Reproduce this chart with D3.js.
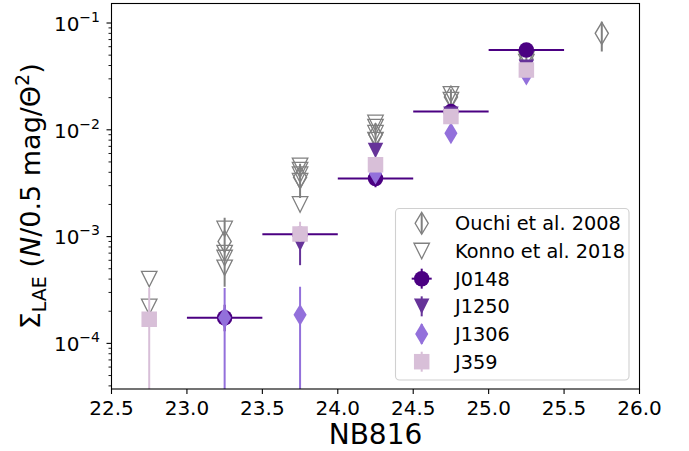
<!DOCTYPE html>
<html><head><meta charset="utf-8">
<script src="https://cdn.jsdelivr.net/npm/d3@7"></script>
<style>body{margin:0;background:#fff} text{font-family:"DejaVu Sans",sans-serif;fill:#000}</style>
</head><body><svg id="c" width="689" height="451"></svg>
<script>
// ---------- data ----------
const xTicks = [22.5, 23.0, 23.5, 24.0, 24.5, 25.0, 25.5, 26.0];
const yMajor = [1e-4, 1e-3, 1e-2, 1e-1];
const yExp = ["−4", "−3", "−2", "−1"];

const ouchiX  = [23.25, 23.75, 24.25, 24.75, 25.25, 25.75];
const ouchiY  = [9.0e-4, 3.6e-3, 9.0e-3, 2.03e-2, 4.6e-2, 8.0e-2];
const ouchiLo = [3.4e-4, 2.3e-3, 7.0e-3, 1.7e-2, 4.0e-2, 5.4e-2];
const ouchiHi = [1.5e-3, 4.8e-3, 1.15e-2, 2.4e-2, 5.2e-2, 1.03e-1];

const konnoX = [22.75, 22.75, 23.25, 23.25, 23.25, 23.25, 23.75, 23.75, 23.75, 23.75, 23.75,
                24.25, 24.25, 24.25, 24.25, 24.75, 24.75, 25.25, 25.25];
const konnoY = [4.0e-4, 2.2e-4, 1.18e-3, 7.0e-4, 6.3e-4, 5.1e-4, 4.6e-3, 4.2e-3, 3.8e-3, 3.3e-3, 2.0e-3,
                1.16e-2, 1.06e-2, 9.3e-3, 8.0e-3, 2.15e-2, 1.9e-2, 4.6e-2, 4.3e-2];

const j0148X  = [23.25, 23.75, 24.25, 24.75, 25.25];
const j0148Y  = [1.74e-4, 1.05e-3, 3.5e-3, 1.48e-2, 5.58e-2];
const j0148Lo = [1.3e-4, 8.5e-4, 2.9e-3, 1.35e-2, 5.2e-2];
const j0148Hi = [2.3e-4, 1.25e-3, 3.9e-3, 1.6e-2, 6.0e-2];
const j0148XErr = [0.25, 0.25, 0.25, 0.25, 0.25];

const j1250X  = [23.75, 24.25, 24.75, 25.25];
const j1250Y  = [8.6e-4, 6.4e-3, 1.4e-2, 3.85e-2];
const j1250Lo = [5.4e-4, 5.8e-3, 1.3e-2, 3.6e-2];
const j1250Hi = [1.05e-3, 7.0e-3, 1.5e-2, 4.1e-2];

const j1306X  = [23.25, 23.75, 24.25, 24.75, 25.25];
const j1306Y  = [1.74e-4, 1.85e-4, 3.9e-3, 9.3e-3, 3.3e-2];
const j1306Lo = [1e-6, 1e-6, 3.6e-3, 8.6e-3, 3.1e-2];
const j1306Hi = [3.3e-4, 3.4e-4, 4.3e-3, 1.0e-2, 3.5e-2];

const j359X  = [22.75, 23.75, 24.25, 24.75, 25.25];
const j359Y  = [1.68e-4, 1.06e-3, 4.7e-3, 1.33e-2, 3.63e-2];
const j359Lo = [1e-6, 9.0e-4, 4.2e-3, 1.2e-2, 3.3e-2];
const j359Hi = [3.3e-4, 1.38e-3, 5.2e-3, 1.45e-2, 4.0e-2];

const legendLabels = ["Ouchi et al. 2008", "Konno et al. 2018", "J0148", "J1250", "J1306", "J359"];
const GRAY = "#808080", C0148 = "#4b0082", C1250 = "#663399", C1306 = "#9370db", C359 = "#d8bfd8";

// ---------- layout ----------
const L = 111.5, R = 639.5, T = 3.5, B = 389;
const svg = d3.select("#c");
const x = d3.scaleLinear().domain([22.5, 26.0]).range([L, R]);
const y = d3.scaleLog().domain([3.74e-5, 0.1523]).range([B, T]);

svg.append("defs").append("clipPath").attr("id", "clip")
  .append("rect").attr("x", L).attr("y", T).attr("width", R - L).attr("height", B - T);
const plot = svg.append("g").attr("clip-path", "url(#clip)");

const S = 15.5;
function mpath(type, s) {
  const h = s / 2;
  if (type === "square") return `M${-h},${-h}H${h}V${h}H${-h}Z`;
  if (type === "tri") return `M${-h},${-h}L${h},${-h}L0,${h}Z`;
  if (type === "diamond") { const a = s * 0.707, w = a * 0.6; return `M0,${-a}L${w},0L0,${a}L${-w},0Z`; }
  if (type === "circle") return `M${h},0A${h},${h} 0 1,1 ${-h},0A${h},${h} 0 1,1 ${h},0Z`;
}

function series(X, Y, Lo, Hi, XE, type, color, fill, sw) {
  const g = plot.append("g");
  const idx = d3.range(X.length);
  if (Lo) g.selectAll(".ey").data(idx).join("line")
    .attr("x1", i => x(X[i])).attr("x2", i => x(X[i]))
    .attr("y1", i => y(Math.max(Lo[i], 1e-8))).attr("y2", i => y(Hi[i]))
    .attr("stroke", color).attr("stroke-width", 2);
  if (XE) g.selectAll(".ex").data(idx).join("line")
    .attr("x1", i => x(X[i] - XE[i])).attr("x2", i => x(X[i] + XE[i]))
    .attr("y1", i => y(Y[i])).attr("y2", i => y(Y[i]))
    .attr("stroke", color).attr("stroke-width", 2);
  g.selectAll(".m").data(idx).join("path")
    .attr("transform", i => `translate(${x(X[i])},${y(Y[i])})`)
    .attr("d", mpath(type, S))
    .attr("fill", fill).attr("stroke", fill === "none" ? color : "none")
    .attr("stroke-width", sw);
}

series(ouchiX, ouchiY, ouchiLo, ouchiHi, null, "diamond", GRAY, "none", 1.4);
series(konnoX, konnoY, null, null, null, "tri", GRAY, "none", 1.3);
series(j0148X, j0148Y, j0148Lo, j0148Hi, j0148XErr, "circle", C0148, C0148, 0);
series(j1250X, j1250Y, j1250Lo, j1250Hi, null, "tri", C1250, C1250, 0);
series(j1306X, j1306Y, j1306Lo, j1306Hi, null, "diamond", C1306, C1306, 0);
series(j359X, j359Y, j359Lo, j359Hi, null, "square", C359, C359, 0);

// ---------- axes ----------
const ax = svg.append("g");
ax.append("rect").attr("x", L).attr("y", T).attr("width", R - L).attr("height", B - T)
  .attr("fill", "none").attr("stroke", "#000").attr("stroke-width", 1.1);

ax.selectAll(".xt").data(xTicks).join("line")
  .attr("x1", d => x(d)).attr("x2", d => x(d)).attr("y1", B).attr("y2", B + 5)
  .attr("stroke", "#000").attr("stroke-width", 1.1);
ax.selectAll(".xl").data(xTicks).join("text")
  .attr("x", d => x(d)).attr("y", B + 25.5).attr("text-anchor", "middle")
  .attr("font-size", 20).text(d => d.toFixed(1));

ax.selectAll(".yt").data(yMajor).join("line")
  .attr("x1", L - 5).attr("x2", L).attr("y1", d => y(d)).attr("y2", d => y(d))
  .attr("stroke", "#000").attr("stroke-width", 1.1);
const minors = [];
[1e-5, 1e-4, 1e-3, 1e-2, 1e-1].forEach(dec => { for (let k = 2; k <= 9; k++) { const v = dec * k; if (v > y.domain()[0] && v < y.domain()[1]) minors.push(v); } });
ax.selectAll(".ym").data(minors).join("line")
  .attr("x1", L - 3).attr("x2", L).attr("y1", d => y(d)).attr("y2", d => y(d))
  .attr("stroke", "#000").attr("stroke-width", 0.9);
const yl = ax.selectAll(".yl").data(yMajor).join("text")
  .attr("x", 100).attr("y", d => y(d) + 7.7).attr("text-anchor", "end").attr("font-size", 20);
yl.append("tspan").text("10");
yl.append("tspan").attr("dy", -9).attr("font-size", 14).text((d, i) => yExp[i]);

svg.append("text").attr("x", (L + R) / 2).attr("y", 444.3).attr("text-anchor", "middle")
  .attr("font-size", 28).text("NB816");
const ylab = svg.append("text").attr("transform", `translate(40,${(T + B) / 2}) rotate(-90)`)
  .attr("text-anchor", "middle").attr("font-size", 27);
ylab.append("tspan").text("Σ");
ylab.append("tspan").attr("font-size", 19).attr("dy", 6).text("LAE");
ylab.append("tspan").attr("dy", -6).text(" (");
ylab.append("tspan").attr("font-style", "italic").text("N");
ylab.append("tspan").text("/0.5 mag/Θ");
ylab.append("tspan").attr("font-size", 19).attr("dy", -11).text("2");
ylab.append("tspan").attr("dy", 11).text(")");

// ---------- legend ----------
const lg = svg.append("g");
lg.append("rect").attr("x", 395.5).attr("y", 208.5).attr("width", 233.5).attr("height", 171.5)
  .attr("rx", 4).attr("fill", "#fff").attr("fill-opacity", 0.8).attr("stroke", "#d0d0d0").attr("stroke-width", 1.1);
const legSpec = [
  {type: "diamond", color: GRAY, fill: "none", vbar: 10, hbar: 0},
  {type: "tri", color: GRAY, fill: "none", vbar: 0, hbar: 0},
  {type: "circle", color: C0148, fill: C0148, vbar: 10, hbar: 10},
  {type: "tri", color: C1250, fill: C1250, vbar: 10, hbar: 0},
  {type: "diamond", color: C1306, fill: C1306, vbar: 10, hbar: 0},
  {type: "square", color: C359, fill: C359, vbar: 10, hbar: 0}
];
const rowY = d3.scaleLinear().domain([0, 5]).range([223.3, 361.7]);
legendLabels.forEach((lab, i) => {
  const sp = legSpec[i], cy = rowY(i), cx = 421.7;
  const g = lg.append("g").attr("transform", `translate(${cx},${cy})`);
  if (sp.vbar) g.append("line").attr("y1", -sp.vbar).attr("y2", sp.vbar).attr("stroke", sp.color).attr("stroke-width", 2);
  if (sp.hbar) g.append("line").attr("x1", -sp.hbar).attr("x2", sp.hbar).attr("stroke", sp.color).attr("stroke-width", 2);
  g.append("path").attr("d", mpath(sp.type, S)).attr("fill", sp.fill)
    .attr("stroke", sp.fill === "none" ? sp.color : "none").attr("stroke-width", 1.3);
  lg.append("text").attr("x", 455).attr("y", cy + 7).attr("font-size", 19.3).text(lab);
});
</script></body></html>
